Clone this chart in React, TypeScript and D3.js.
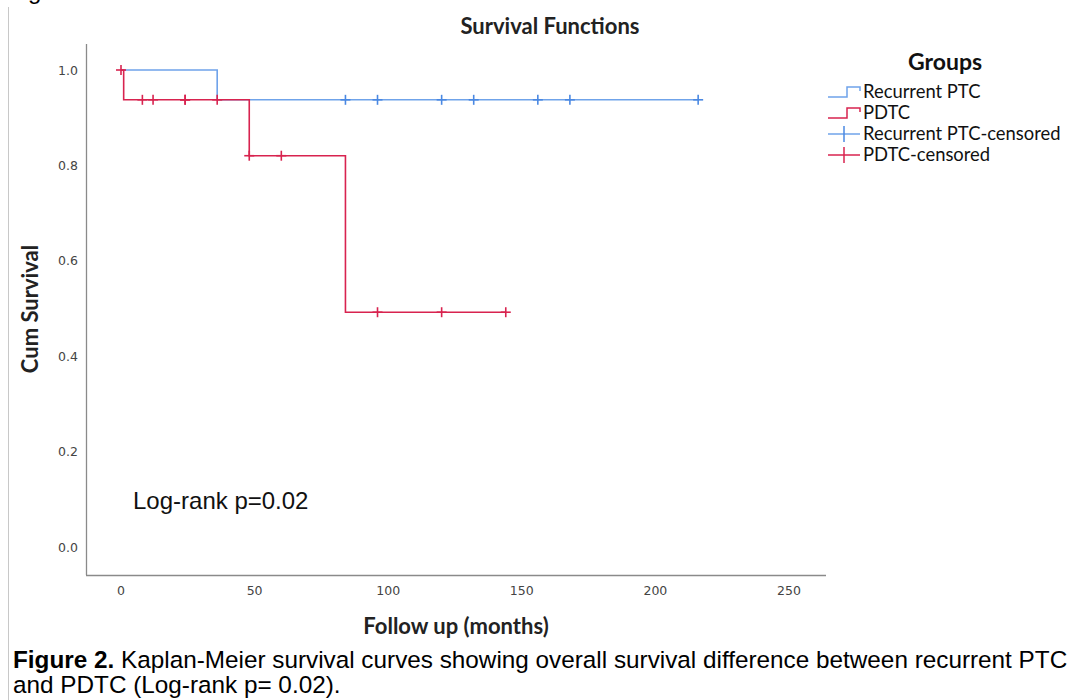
import React from "react";
import * as d3 from "d3";

const ptcTimes = [0, 36, 216];
const ptcSurv = [1.0, 0.9375, 0.9375];
const pdtcTimes = [0, 1, 48, 84, 144];
const pdtcSurv = [1.0, 0.9375, 0.8203, 0.4922, 0.4922];
const ptcCensTimes = [84, 96, 120, 132, 156, 168, 216];
const ptcCensSurv = [0.9375, 0.9375, 0.9375, 0.9375, 0.9375, 0.9375, 0.9375];
const pdtcCensTimes = [0, 8, 12, 24, 24, 36, 48, 60, 96, 120, 144];
const pdtcCensSurv = [1.0, 0.9375, 0.9375, 0.9375, 0.9375, 0.9375, 0.8203, 0.8203, 0.4922, 0.4922, 0.4922];
const xTicks = [0, 50, 100, 150, 200, 250];
const yTicks = [0.0, 0.2, 0.4, 0.6, 0.8, 1.0];
const legendLabels = ["Recurrent PTC", "PDTC", "Recurrent PTC-censored", "PDTC-censored"];

const BLUE = "#6FA3EA";
const BLUE_MARK = "#4A88E2";
const RED = "#D8234F";
const AXIS = "#8a8a8a";
const TICKFONT = "'DejaVu Sans', sans-serif";
const BOLDFONT = "Lato, 'Open Sans', sans-serif";
const ARIAL = "'Liberation Sans', Arial, sans-serif";

export default function App() {
  const x = d3.scaleLinear().domain([0, 250]).range([121, 789]);
  const y = d3.scaleLinear().domain([0, 1]).range([547, 70]);
  const line = d3
    .line<[number, number]>()
    .x((d) => x(d[0]))
    .y((d) => y(d[1]))
    .curve(d3.curveStepAfter);
  const ptcPts: [number, number][] = ptcTimes.map((t, i) => [t, ptcSurv[i]]);
  const pdtcPts: [number, number][] = pdtcTimes.map((t, i) => [t, pdtcSurv[i]]);

  const cross = (cx: number, cy: number, color: string, key: string) => (
    <g key={key} stroke={color} strokeWidth={1.6}>
      <line x1={cx} x2={cx} y1={cy - 5} y2={cy + 5} />
      <line x1={cx - 5} x2={cx + 5} y1={cy} y2={cy} />
    </g>
  );

  const legX = 828;
  const legText = 863;
  const legY = [92, 113, 134, 155];

  return (
    <svg
      width={1073}
      height={700}
      style={{ position: "absolute", left: 0, top: 0, background: "#fff" }}
    >
      <rect width={1073} height={700} fill="#fff" />
      <text x={8} y={-1} fontFamily={ARIAL} fontSize={24} fill="#000">
        Figure 1.
      </text>
      <line x1={8.5} x2={8.5} y1={7} y2={700} stroke="#c8c8c8" strokeWidth={1} />

      {/* title */}
      <text x={550} y={34} textAnchor="middle" fontFamily={BOLDFONT} fontWeight="bold" fontSize={22} fill="#222">
        Survival Functions
      </text>

      {/* axes */}
      <line x1={86.5} x2={86.5} y1={44} y2={575} stroke={AXIS} strokeWidth={1.3} />
      <line x1={86} x2={826} y1={575.5} y2={575.5} stroke={AXIS} strokeWidth={1.3} />
      {yTicks.map((v) => (
        <text key={"y" + v} x={78} y={y(v) + 4.5} textAnchor="end" fontFamily={TICKFONT} fontSize={12.5} fill="#444">
          {v.toFixed(1)}
        </text>
      ))}
      {xTicks.map((v) => (
        <text key={"x" + v} x={x(v)} y={595} textAnchor="middle" fontFamily={TICKFONT} fontSize={12.5} fill="#444">
          {v}
        </text>
      ))}
      <text
        transform="translate(38,309) rotate(-90)"
        textAnchor="middle"
        fontFamily={BOLDFONT}
        fontWeight="bold"
        fontSize={22}
        fill="#222"
      >
        Cum Survival
      </text>
      <text x={456} y={634} textAnchor="middle" fontFamily={BOLDFONT} fontWeight="bold" fontSize={22} fill="#222">
        Follow up (months)
      </text>

      {/* curves */}
      <path d={line(ptcPts) || ""} fill="none" stroke={BLUE} strokeWidth={1.6} />
      <path d={line(pdtcPts) || ""} fill="none" stroke={RED} strokeWidth={1.6} />
      {ptcCensTimes.map((t, i) => cross(x(t), y(ptcCensSurv[i]), BLUE_MARK, "bc" + i))}
      {pdtcCensTimes.map((t, i) => cross(x(t), y(pdtcCensSurv[i]), RED, "rc" + i))}

      <text x={133} y={509} fontFamily={ARIAL} fontSize={24} fill="#111">
        Log-rank p=0.02
      </text>

      {/* legend */}
      <text x={945} y={70} textAnchor="middle" fontFamily={BOLDFONT} fontWeight="bold" fontSize={23} fill="#111">
        Groups
      </text>
      {legendLabels.map((lab, i) => {
        const cy = legY[i];
        const isLine = i < 2;
        const col = i % 2 === 0 ? BLUE : RED;
        const markCol = i % 2 === 0 ? BLUE_MARK : RED;
        return (
          <g key={lab}>
            {isLine ? (
              <path
                d={`M${legX},${cy + 5}H${legX + 19}V${cy - 5}H${legX + 32}V${cy - 1}`}
                fill="none"
                stroke={col}
                strokeWidth={1.5}
              />
            ) : (
              <g>
                <line x1={legX} x2={legX + 32} y1={cy} y2={cy} stroke={col} strokeWidth={1.5} />
                <line x1={legX + 16} x2={legX + 16} y1={cy - 8} y2={cy + 8} stroke={markCol} strokeWidth={1.5} />
              </g>
            )}
            <text x={legText} y={cy + 6} fontFamily={BOLDFONT} fontSize={18.4} fill="#111">
              {lab}
            </text>
          </g>
        );
      })}

      {/* caption */}
      <text x={13} y={668} fontFamily={ARIAL} fontSize={24.3} fill="#000">
        <tspan fontWeight="bold">Figure 2.</tspan>
        <tspan> Kaplan-Meier survival curves showing overall survival difference between recurrent PTC</tspan>
      </text>
      <text x={13} y={693} fontFamily={ARIAL} fontSize={24.3} fill="#000">
        and PDTC (Log-rank p= 0.02).
      </text>
    </svg>
  );
}
